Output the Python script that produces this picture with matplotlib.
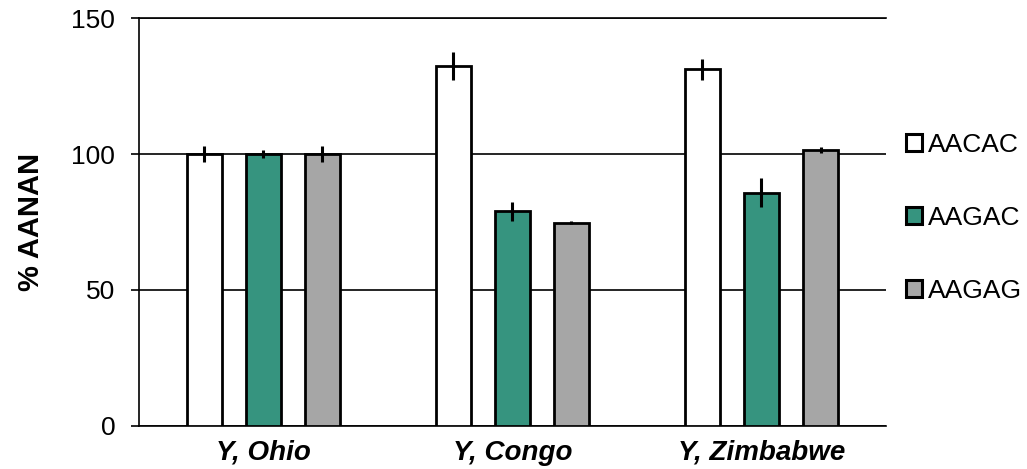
import numpy as np
import matplotlib
matplotlib.use("Agg")
import matplotlib.pyplot as plt
from matplotlib.patches import Patch

plt.rcParams["font.family"] = ["Liberation Sans", "DejaVu Sans"]

groups = ["Y, Ohio", "Y, Congo", "Y, Zimbabwe"]
series = ["AACAC", "AAGAC", "AAGAG"]
values = {
    "AACAC": [100, 132.4, 131.1],
    "AAGAC": [100, 79.0, 85.8],
    "AAGAG": [100, 74.7, 101.5],
}
errors = {
    "AACAC": [3.1, 5.1, 3.9],
    "AAGAC": [1.6, 3.5, 5.3],
    "AAGAG": [3.0, 0.5, 1.0],
}
colors = {"AACAC": "#FFFFFF", "AAGAC": "#36947F", "AAGAG": "#A6A6A6"}

fig = plt.figure(figsize=(10.27, 4.69), dpi=100)
ax = fig.add_axes([0.1353, 0.0917, 0.7274, 0.8699])

x = np.arange(len(groups))
offset, width = 0.237, 0.137
for i, s in enumerate(series):
    ax.bar(x + (i - 1) * offset, values[s], width, color=colors[s],
           edgecolor="black", linewidth=2.0, zorder=3,
           yerr=errors[s], error_kw=dict(ecolor="black", elinewidth=2.2, capsize=0, zorder=4))

ax.set_xlim(-0.5, 2.5)
ax.set_ylim(0, 150)
ax.set_yticks([0, 50, 100, 150])
ax.yaxis.grid(True, color="black", linewidth=1.2, zorder=0)
ax.set_axisbelow(True)
ax.spines["right"].set_visible(False)
for sp in ["left", "bottom", "top"]:
    ax.spines[sp].set_linewidth(1.2)
ax.tick_params(axis="y", direction="out", length=6, width=1.2, labelsize=19, pad=11)
ax.tick_params(axis="x", length=0, pad=10)
ax.set_xticks(x)
ax.set_xticklabels(groups, fontsize=20, fontweight="bold", fontstyle="italic")
ax.set_ylabel("% AANAN", fontsize=21, fontweight="bold", labelpad=19)

handles = [Patch(facecolor=colors[s], edgecolor="black", linewidth=2.2) for s in series]
ax.legend(handles, series, loc="center left", bbox_to_anchor=(1.0, 0.51),
          frameon=False, fontsize=19, handlelength=0.6, handleheight=0.6,
          handletextpad=0.25, labelspacing=1.85, borderaxespad=0.35)

fig.savefig("out.png", dpi=100)
